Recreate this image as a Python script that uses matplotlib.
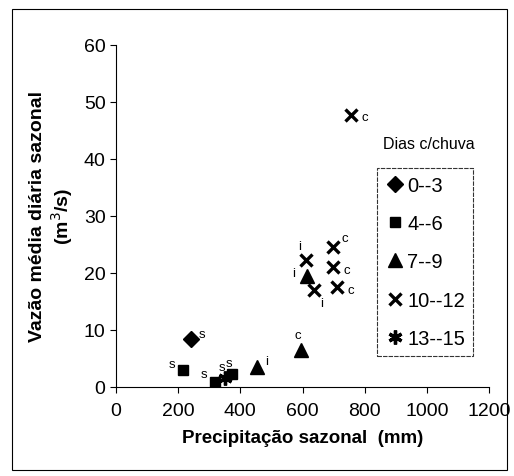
import matplotlib
matplotlib.use("Agg")
import matplotlib.pyplot as plt

plt.rcParams['font.family'] = ['Liberation Sans', 'DejaVu Sans']

# groups of rainy days
groups = ["0--3", "4--6", "7--9", "10--12", "13--15"]

# seasonal precipitation (mm) / mean daily flow (m3/s) / season label
x_0_3 = [240]
y_0_3 = [8.5]
l_0_3 = ["s"]

x_4_6 = [216, 319, 373]
y_4_6 = [3.0, 0.9, 2.2]
l_4_6 = ["s", "s", "s"]

x_7_9 = [452, 594, 613]
y_7_9 = [3.5, 6.5, 19.5]
l_7_9 = ["i", "c", "i"]

x_10_12 = [755, 610, 699, 699, 636, 710]
y_10_12 = [47.8, 22.3, 24.6, 21.0, 17.0, 17.5]
l_10_12 = ["c", "i", "c", "c", "i", "c"]

x_13_15 = [350]
y_13_15 = [1.6]
l_13_15 = ["s"]

fig = plt.figure(figsize=(5.14, 4.77), dpi=100)
ax = fig.add_axes([0.2257, 0.1866, 0.7257, 0.717])

# outer frame of the figure
fig.patches.append(plt.Rectangle((0.023, 0.013), 0.963, 0.965, transform=fig.transFigure,
                                 fill=False, edgecolor="black", linewidth=0.8))

ax.plot(x_0_3, y_0_3, 'D', color='black', markersize=8.5, linestyle='none', label=groups[0])
ax.plot(x_4_6, y_4_6, 's', color='black', markersize=7.5, linestyle='none', label=groups[1])
ax.plot(x_7_9, y_7_9, '^', color='black', markersize=10, linestyle='none', label=groups[2])
ax.plot(x_10_12, y_10_12, 'x', color='black', markersize=9, mew=2.4, linestyle='none', label=groups[3])
ax.plot(x_13_15, y_13_15, marker=(6, 2, 0), color='black', markersize=10, mew=2.4,
        linestyle='none', label=groups[4])

# season labels next to points
offsets = {
    "0_3": [(8, 3)],
    "4_6": [(-8, 4), (-8, 6), (-2, 8)],
    "7_9": [(7, 4), (-2, 11), (-9, 2)],
    "10_12": [(10, -2), (-4, 10), (8, 6), (10, -2), (6, -9), (10, -2)],
    "13_15": [(-2, 8)],
}
series = {
    "0_3": (x_0_3, y_0_3, l_0_3),
    "4_6": (x_4_6, y_4_6, l_4_6),
    "7_9": (x_7_9, y_7_9, l_7_9),
    "10_12": (x_10_12, y_10_12, l_10_12),
    "13_15": (x_13_15, y_13_15, l_13_15),
}
for key, (xs, ys, ls) in series.items():
    for xv, yv, lab, off in zip(xs, ys, ls, offsets[key]):
        ax.annotate(lab, (xv, yv), xytext=off, textcoords='offset points',
                    fontsize=9.5, ha='center', va='center')

ax.set_xlim(0, 1200)
ax.set_ylim(0, 60)
ax.set_xticks(range(0, 1201, 200))
ax.set_yticks(range(0, 61, 10))
ax.spines['top'].set_visible(False)
ax.spines['right'].set_visible(False)
ax.spines['left'].set_linewidth(0.8)
ax.spines['bottom'].set_linewidth(0.8)
ax.tick_params(axis='both', labelsize=14, length=4, width=0.8, direction='out')
ax.tick_params(axis='x', pad=7)

ax.set_xlabel("Precipitação sazonal  (mm)", fontsize=13.5, fontweight='bold', labelpad=7)
ax.set_ylabel("Vazão média diária sazonal\n(m$^3$/s)", fontsize=14, fontweight='bold',
              labelpad=6)

leg = ax.legend(loc='upper left', bbox_to_anchor=(0.70, 0.64), frameon=True, fancybox=False,
                fontsize=14.5, handletextpad=0.1, borderpad=0.4, labelspacing=0.95,
                handlelength=1.0, borderaxespad=0)
leg.get_frame().set_edgecolor('black')
leg.get_frame().set_linewidth(0.8)
leg.get_frame().set_linestyle((0, (4, 1)))
ax.text(0.715, 0.70, "Dias c/chuva", transform=ax.transAxes, fontsize=11.5)

fig.savefig("out.png", dpi=100)
